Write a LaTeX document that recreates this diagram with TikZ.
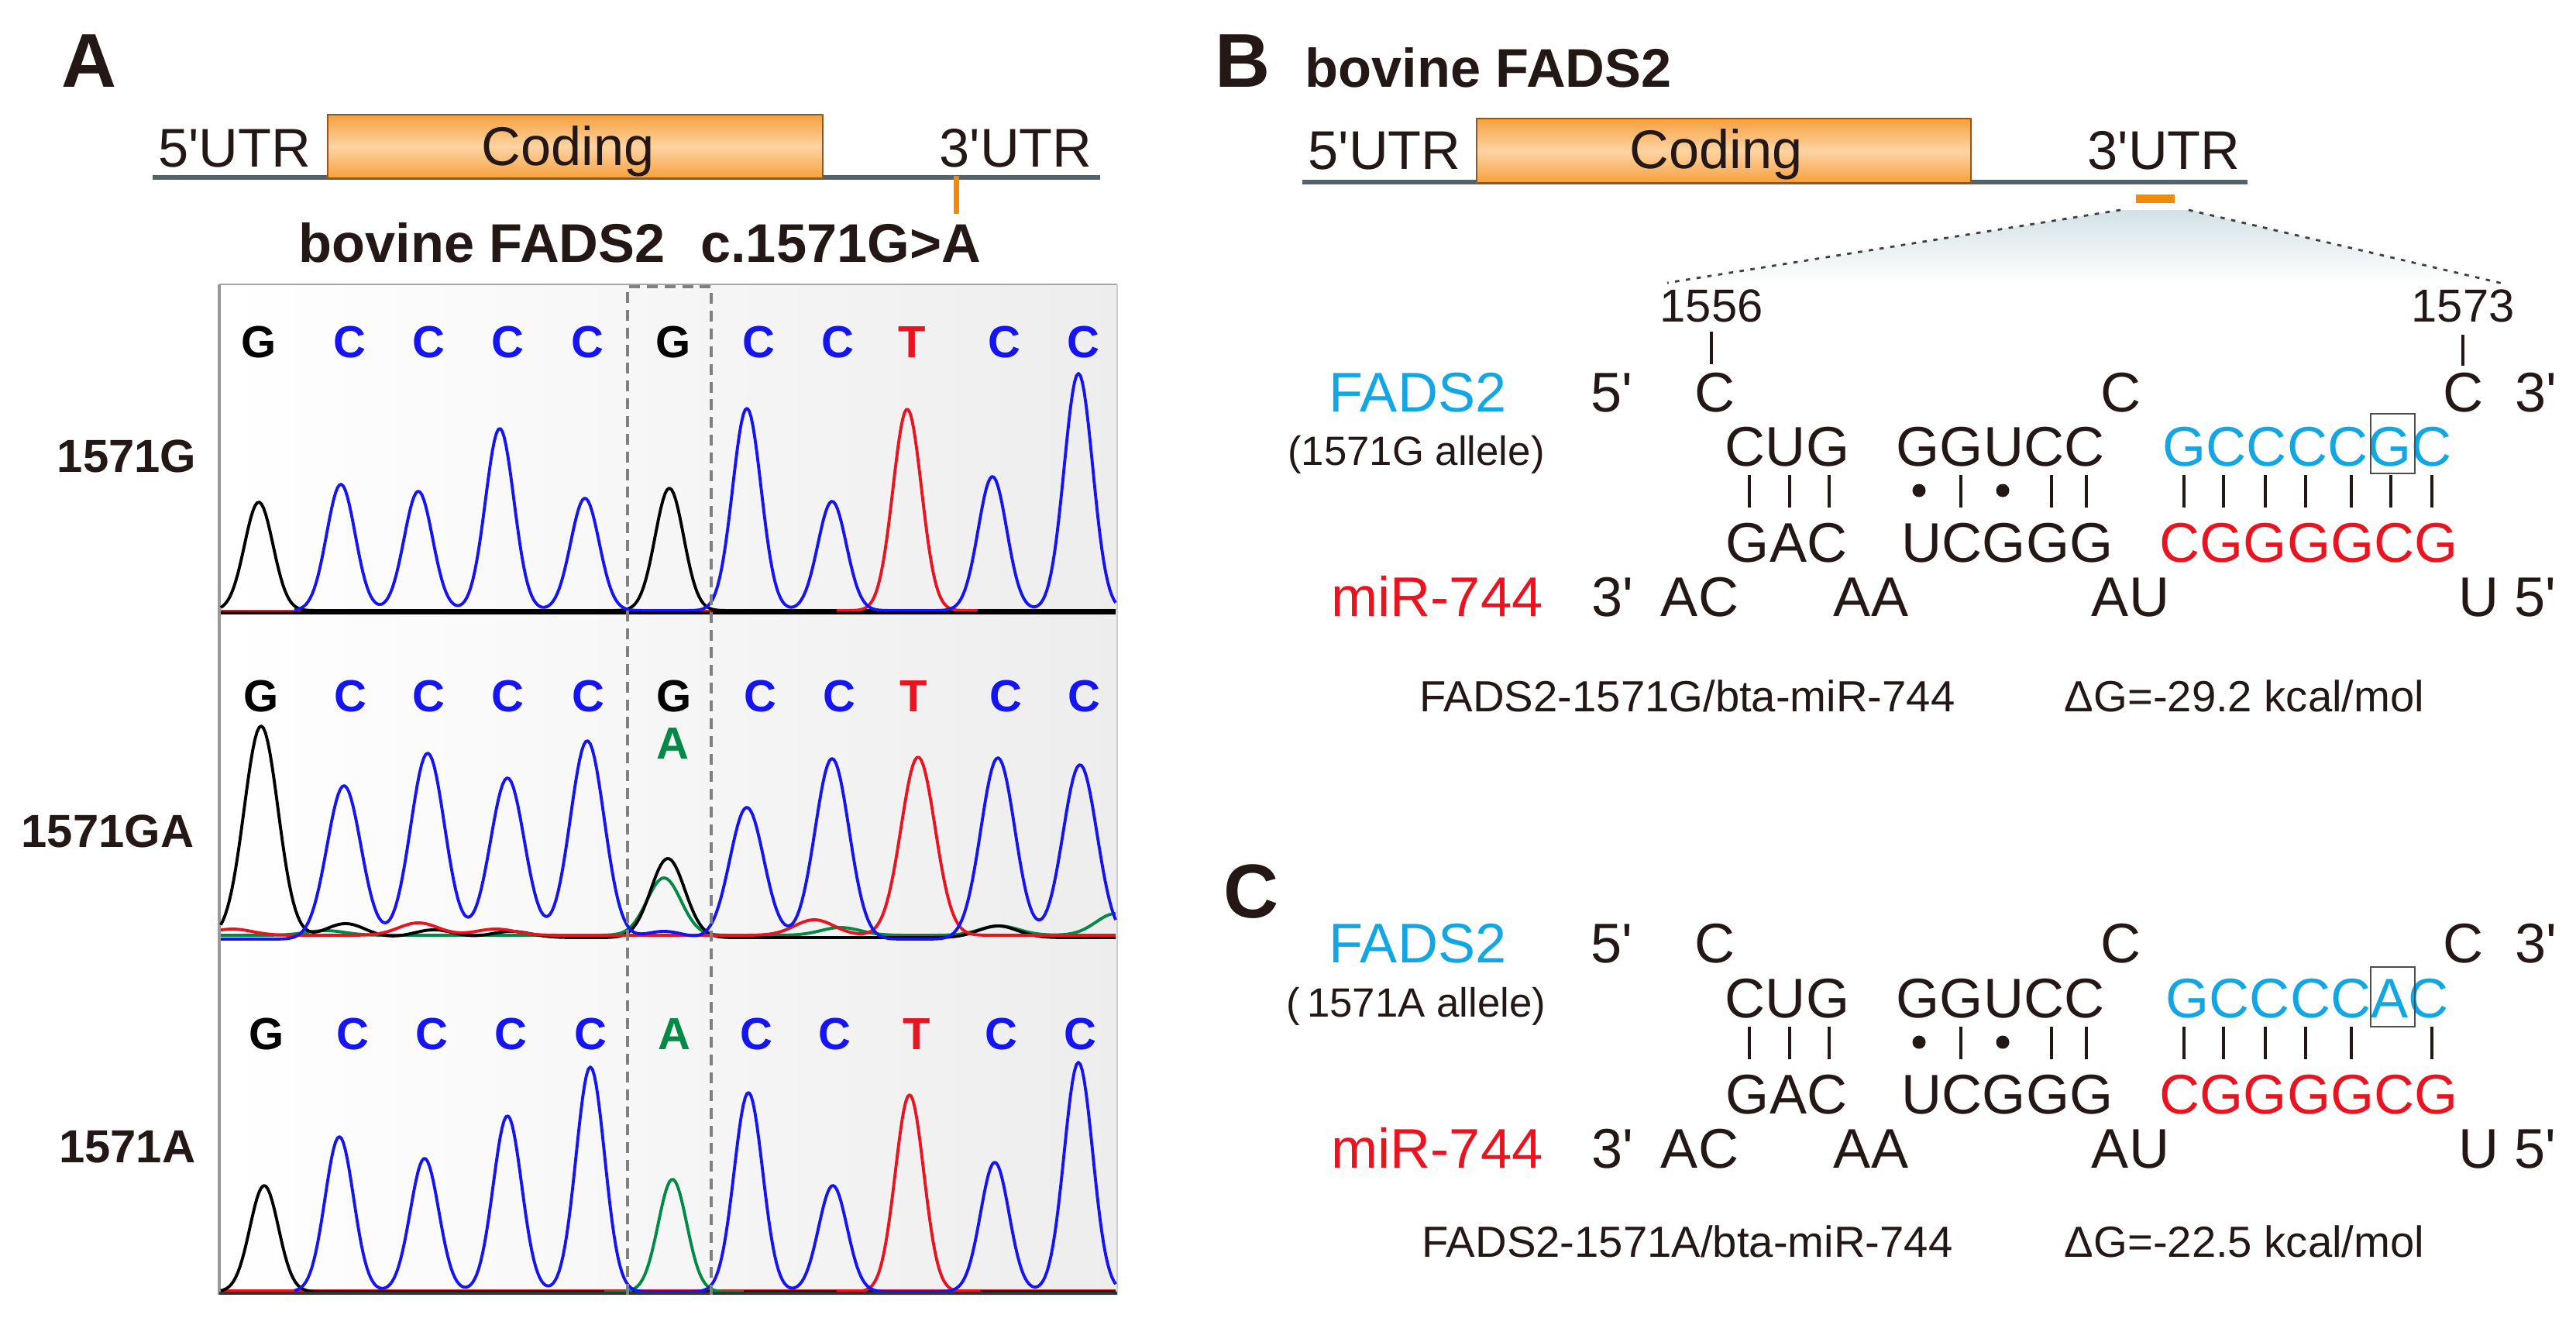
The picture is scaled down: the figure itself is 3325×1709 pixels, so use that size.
\documentclass[tikz,border=0pt]{standalone}
\usepackage{fontspec}
\setmainfont{Liberation Sans}
\usetikzlibrary{calc}
\definecolor{orng}{HTML}{F7A03C}
\definecolor{orngl}{HTML}{FDD4A4}
\definecolor{orngd}{HTML}{8A5A2A}
\definecolor{gline}{HTML}{52646A}
\definecolor{tickc}{HTML}{F58A00}
\definecolor{cyanT}{HTML}{12A7E3}
\definecolor{redT}{HTML}{EA1420}
\definecolor{blueT}{HTML}{1414F5}
\definecolor{grnT}{HTML}{008A45}
\definecolor{txt}{HTML}{231815}
\definecolor{triT}{HTML}{D3E2E5}
\begin{document}
\begin{tikzpicture}[x=0.01cm,y=-0.01cm,
  declare function={pk(\x,\c,\h)=\h*exp(-((((\x)-(\c))/26)^2));
                    pkw(\x,\c,\h)=\h*exp(-((((\x)-(\c))/31)^2));
                    pks(\x,\c,\h)=\h*exp(-((((\x)-(\c))/36)^2));},
  panel/.style={font=\fontsize{28}{32}\selectfont\bfseries,text=txt,anchor=base,inner sep=0pt},
  ttl/.style={font=\fontsize{20}{24}\selectfont\bfseries,text=txt,anchor=base west,inner sep=0pt},
  genetxt/.style={font=\fontsize{20}{24}\selectfont,text=txt,anchor=base,inner sep=0pt},
  ntl/.style={font=\fontsize{16.5}{20}\selectfont\bfseries,anchor=base,inner sep=0pt},
  rowlab/.style={font=\fontsize{17}{20}\selectfont\bfseries,text=txt,anchor=base east,inner sep=0pt},
  seq/.style={font=\fontsize{20.5}{24}\selectfont,text=txt,anchor=base,inner sep=0pt},
  allele/.style={font=\fontsize{15}{18}\selectfont,text=txt,anchor=base,inner sep=0pt},
  num/.style={font=\fontsize{17}{20}\selectfont,text=txt,anchor=base,inner sep=0pt},
  foot/.style={font=\fontsize{16}{19}\selectfont,text=txt,anchor=base,inner sep=0pt},
  pairbar/.style={draw=txt,line width=1pt},
  trace/.style={line width=1.1pt,line join=round},
  codingbox/.style={top color=orng,bottom color=orng,middle color=orngl,draw=orngd,line width=0.5pt},
  geneline/.style={draw=gline,line width=1.5pt},
  selbox/.style={draw=black!70,line width=0.7pt},
]
\useasboundingbox (0,0) rectangle (3325,1709);
\fill[white] (0,0) rectangle (3325,1709);

% ================= Panel A =================
\node[panel] (labA) at (115,112) {A};
\draw[geneline] (197,229) -- (1420,229);
\shade[codingbox] (423,148) rectangle (1062,230);
\node[genetxt] (a5utr) at (303,215) {5\textquotesingle UTR};
\node[genetxt] (acod) at (733,213) {Coding};
\node[genetxt] (a3utr) at (1311,215) {3\textquotesingle UTR};
\coordinate (snpTop) at (1234,227);
\coordinate (snpBot) at (1234,276);
\draw[tickc,line width=2pt] (snpTop) -- (snpBot);
\node[ttl] (atitle) at (385,338) {bovine FADS2\hspace{13pt}c.1571G>A};

% chromatogram backgrounds
\shade[left color=white,right color=black!7] (283,367) rectangle (1442,792);
\shade[left color=white,right color=black!7] (283,792) rectangle (1442,1215);
\shade[left color=white,right color=black!7] (283,1215) rectangle (1442,1671);
\draw[black!35,line width=0.8pt] (1442,367) -- (283,367);
\draw[black!40,line width=0.9pt] (283,367) -- (283,1671);
\draw[black!20,line width=0.6pt] (1442,367) -- (1442,1671);

% row labels
\node[rowlab] (r1name) at (254,609) {1571G};
\node[rowlab] (r2name) at (251,1093) {1571GA};
\node[rowlab] (r3name) at (253,1500) {1571A};

% base calls
\foreach \xx/\ll/\cc [count=\i] in {334/G/black,451/C/blueT,553/C/blueT,655/C/blueT,758/C/blueT,869/G/black,979/C/blueT,1081/C/blueT,1177/T/redT,1296/C/blueT,1398/C/blueT}
  \node[ntl,text=\cc] (r1b\i) at (\xx,461) {\ll};
\foreach \xx/\ll/\cc [count=\i] in {337/G/black,452/C/blueT,553/C/blueT,655/C/blueT,759/C/blueT,870/G/black,981/C/blueT,1083/C/blueT,1179/T/redT,1298/C/blueT,1399/C/blueT}
  \node[ntl,text=\cc] (r2b\i) at (\xx,918) {\ll};
\node[ntl,text=grnT] (r2A) at (868,979) {A};
\foreach \xx/\ll/\cc [count=\i] in {344/G/black,455/C/blueT,557/C/blueT,659/C/blueT,762/C/blueT,870/A/grnT,976/C/blueT,1077/C/blueT,1183/T/redT,1292/C/blueT,1394/C/blueT}
  \node[ntl,text=\cc] (r3b\i) at (\xx,1354) {\ll};

% row 1 traces
\draw[trace,grnT] (285,789) -- (1440,789);
\draw[trace,redT] (285,790) -- (1440,790);
\draw[trace,black] plot[domain=285:1440,samples=420] (\x,{788-pk(\x,334,140)-pk(\x,864,158)});
\draw[trace,redT] plot[domain=1080:1262,samples=80] (\x,{788-pk(\x,1171,260)});
\draw[trace,blueT] plot[domain=380:1440,samples=420] (\x,{788-pk(\x,440,163)-pk(\x,540,154)-pk(\x,645,235)-pk(\x,755,145)-pk(\x,964,261)-pk(\x,1074,141)-pk(\x,1281,173)-pk(\x,1392,306)});
\draw[black,line width=1.3pt] (285,791) -- (1440,791);

% row 2 traces
\draw[trace,grnT] plot[domain=285:1440,samples=420] (\x,{1207-pkw(\x,857,74)-pks(\x,1085,10)-pks(\x,1290,12)-pks(\x,1440,28)-pks(\x,420,6)});
\draw[trace,black] plot[domain=285:1440,samples=420] (\x,{1210-pkw(\x,337,273)-pkw(\x,862,102)-pks(\x,446,18)-pks(\x,560,10)-pks(\x,660,8)-pks(\x,1288,15)});
\draw[trace,redT] plot[domain=285:1440,samples=420] (\x,{1207-pks(\x,300,8)-pks(\x,540,16)-pks(\x,640,8)-pks(\x,1051,20)-pkw(\x,1185,230)});
\draw[trace,blueT] plot[domain=285:1440,samples=420] (\x,{1212-pkw(\x,444,198)-pkw(\x,552,240)-pkw(\x,655,208)-pkw(\x,758,256)-pks(\x,857,10)-pkw(\x,964,170)-pkw(\x,1074,233)-pkw(\x,1288,234)-pkw(\x,1394,225)});

% row 3 traces
\draw[trace,redT] (285,1666) -- (1440,1666);
\draw[trace,black] plot[domain=285:1440,samples=420] (\x,{1667-pk(\x,341,137)});
\draw[trace,grnT] plot[domain=780:960,samples=80] (\x,{1667-pk(\x,868,145)});
\draw[trace,redT] plot[domain=1080:1265,samples=80] (\x,{1667-pk(\x,1174,254)});
\draw[trace,blueT] plot[domain=380:1440,samples=420] (\x,{1667-pk(\x,438,200)-pk(\x,548,172)-pk(\x,655,227)-pk(\x,762,290)-pk(\x,966,257)-pk(\x,1075,137)-pk(\x,1284,167)-pk(\x,1392,296)});
\draw[black!80,line width=1.3pt] (283,1669) -- (1442,1669);

% SNP column dashed box
\draw[black!50,line width=1pt,dash pattern=on 4pt off 2.5pt] (810,1671) -- (810,370) -- (918,370) -- (918,1671);

% ================= Panel B =================
\node[panel] (labB) at (1604,112) {B};
\node[ttl] (btitle) at (1684,112) {bovine FADS2};
\draw[geneline] (1681,235) -- (2901,235);
\shade[codingbox] (1906,153) rectangle (2544,236);
\node[genetxt] (b5utr) at (1787,218) {5\textquotesingle UTR};
\node[genetxt] (bcod) at (2215,217) {Coding};
\node[genetxt] (b3utr) at (2793,218) {3\textquotesingle UTR};
\fill[tickc] (2757,251) rectangle (2807,262);
\coordinate (tL) at (2737,271);
\coordinate (tR) at (2825,271);
\coordinate (bL) at (2152,365);
\coordinate (bR) at (3231,366);
\shade[top color=triT,bottom color=white] (tL) -- (tR) -- (bR) -- (bL) -- cycle;
\draw[black!75,line width=0.8pt,dash pattern=on 1.6pt off 2.4pt] (tL) -- (bL);
\draw[black!75,line width=0.8pt,dash pattern=on 1.6pt off 2.4pt] (tR) -- (bR);
\node[num] (n1556) at (2209,415) {1556};
\node[num] (n1573) at (3179,415) {1573};
\draw[pairbar] (2209,428) -- (2209,470);
\draw[pairbar] (3179,432) -- (3179,472);

\node[seq,text=cyanT] (bF) at (1830,531) {FADS2};
\node[seq] (b5) at (2080,531) {5\textquotesingle};
\node[seq] (bC1) at (2213,531) {C};
\node[seq] (bC2) at (2737,531) {C};
\node[seq] (bC3) at (3179,531) {C};
\node[seq] (b3) at (3273,531) {3\textquotesingle};
\node[allele] (bAl) at (1828,600) {(1571G allele)};
\node[seq] (bCUG) at (2307,601) {CUG};
\node[seq] (bGGUCC) at (2582,601) {GGUCC};
\node[seq,text=cyanT] (bGC) at (2978,601) {GCCCCGC};
\draw[selbox] (3060,534) rectangle (3117,611);
\foreach \xx in {2258,2310,2361,2531,2648,2693,2819,2870,2924,2976,3035,3086,3139}
  \draw[pairbar] (\xx,613) -- (\xx,655);
\fill[txt] (2477,633) circle[radius=0.085cm];
\fill[txt] (2585,633) circle[radius=0.085cm];
\node[seq] (bGAC) at (2306,725) {GAC};
\node[seq] (bUCGGG) at (2591,725) {UCGGG};
\node[seq,text=redT] (bCG) at (2980,725) {CGGGGCG};
\node[seq,text=redT] (bmiR) at (1855,795) {miR-744};
\node[seq] (bm3) at (2081,795) {3\textquotesingle};
\node[seq] (bAC) at (2194,795) {AC};
\node[seq] (bAA) at (2415,795) {AA};
\node[seq] (bAU) at (2750,795) {AU};
\node[seq] (bU5) at (3236,795) {U 5\textquotesingle};
\node[foot] (bft1) at (2178,918) {FADS2-1571G/bta-miR-744};
\node[foot] (bft2) at (2897,918) {ΔG=-29.2 kcal/mol};

% ================= Panel C =================
\node[panel] (labC) at (1615,1184) {C};
\node[seq,text=cyanT] (cF) at (1830,1242) {FADS2};
\node[seq] (c5) at (2080,1242) {5\textquotesingle};
\node[seq] (cC1) at (2213,1242) {C};
\node[seq] (cC2) at (2737,1242) {C};
\node[seq] (cC3) at (3179,1242) {C};
\node[seq] (c3) at (3273,1242) {3\textquotesingle};
\node[allele] (cAl) at (1828,1312) {(\,1571A allele)};
\node[seq] (cCUG) at (2307,1313) {CUG};
\node[seq] (cGGUCC) at (2582,1313) {GGUCC};
\node[seq,text=cyanT] (cGC) at (2978,1313) {GCCCCAC};
\draw[selbox] (3060,1248) rectangle (3117,1325);
\foreach \xx in {2258,2310,2361,2531,2648,2693,2819,2870,2924,2976,3035,3139}
  \draw[pairbar] (\xx,1325) -- (\xx,1367);
\fill[txt] (2477,1345) circle[radius=0.085cm];
\fill[txt] (2585,1345) circle[radius=0.085cm];
\node[seq] (cGAC) at (2306,1437) {GAC};
\node[seq] (cUCGGG) at (2591,1437) {UCGGG};
\node[seq,text=redT] (cCG) at (2980,1437) {CGGGGCG};
\node[seq,text=redT] (cmiR) at (1855,1507) {miR-744};
\node[seq] (cm3) at (2081,1507) {3\textquotesingle};
\node[seq] (cAC) at (2194,1507) {AC};
\node[seq] (cAA) at (2415,1507) {AA};
\node[seq] (cAU) at (2750,1507) {AU};
\node[seq] (cU5) at (3236,1507) {U 5\textquotesingle};
\node[foot] (cft1) at (2178,1622) {FADS2-1571A/bta-miR-744};
\node[foot] (cft2) at (2897,1622) {ΔG=-22.5 kcal/mol};
\end{tikzpicture}
\end{document}
